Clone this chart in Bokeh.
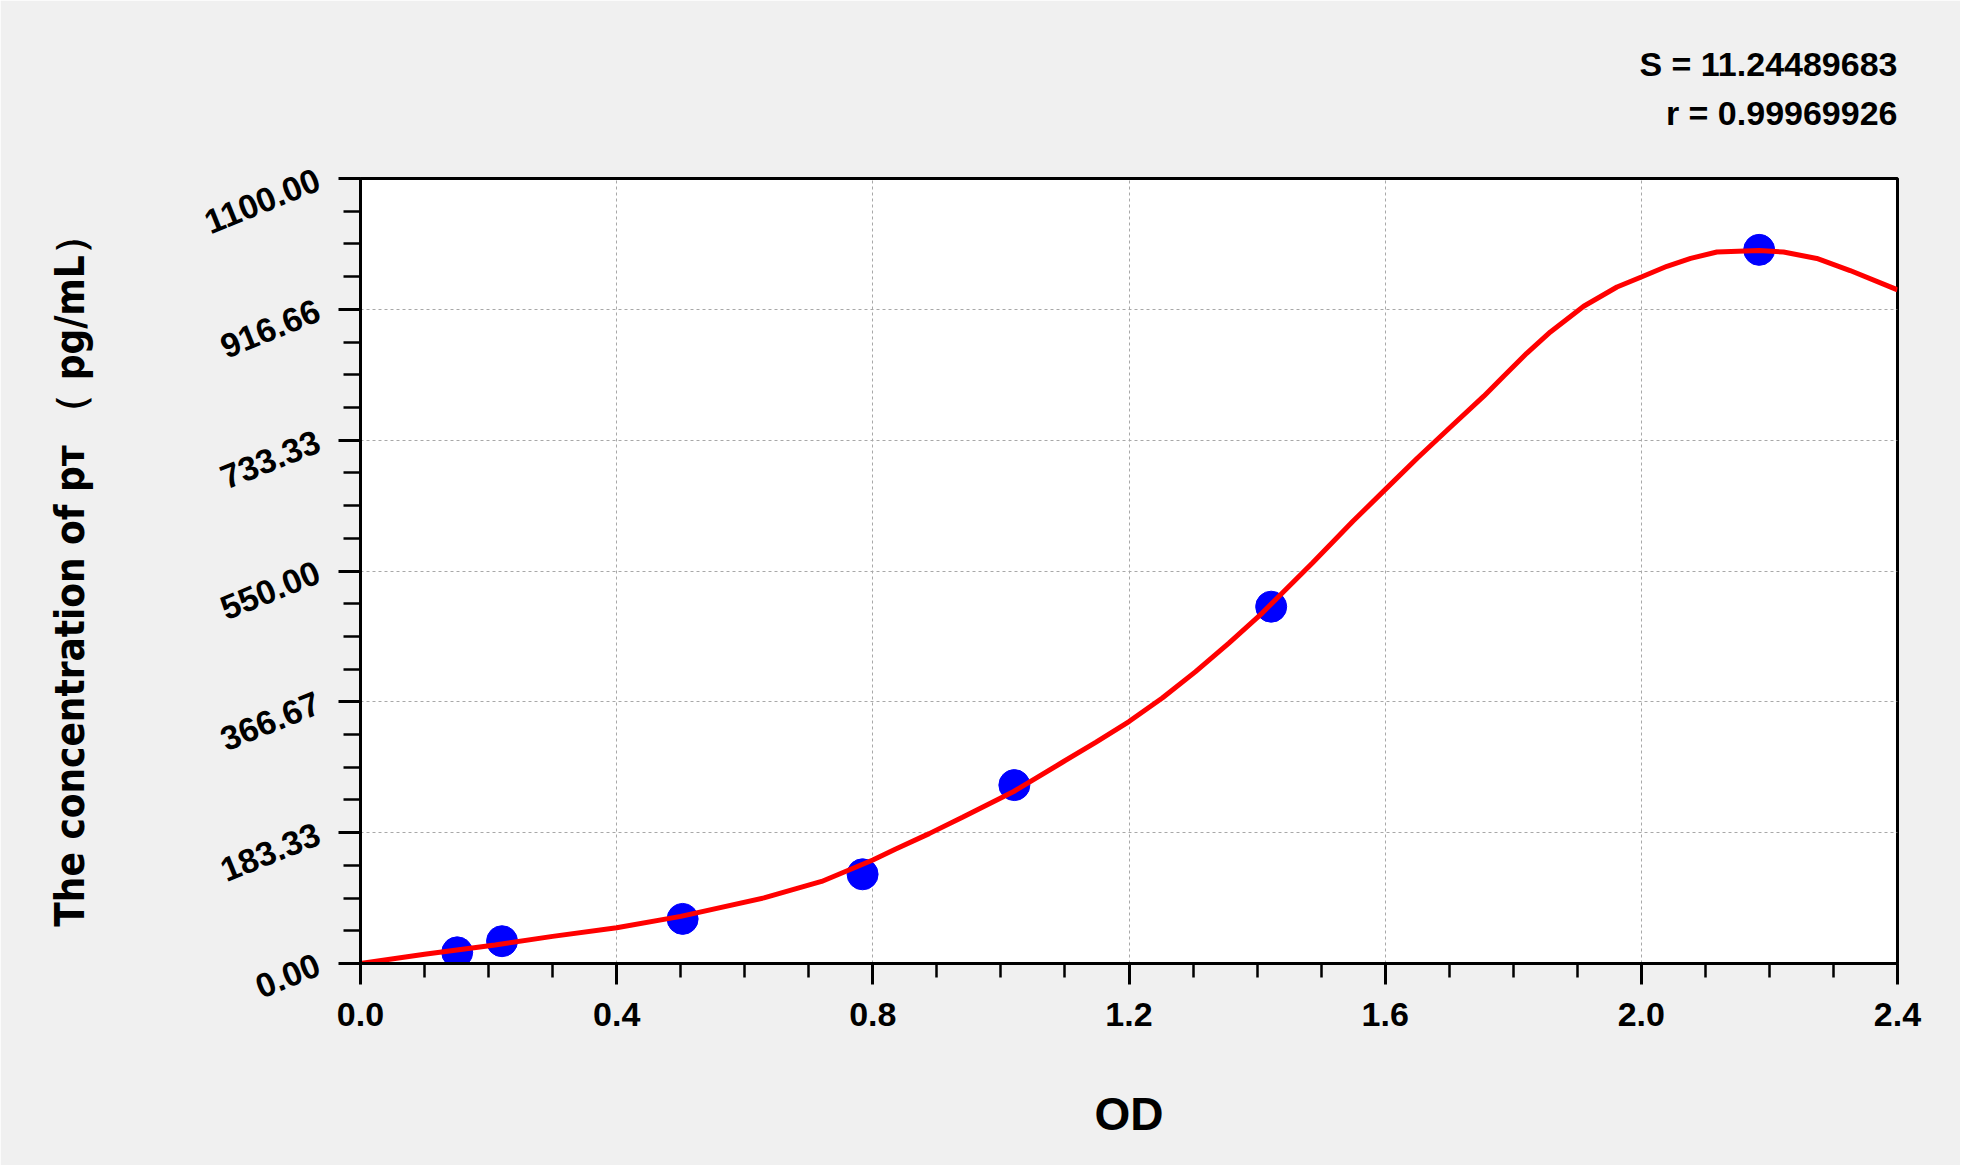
import math
import numpy as np
from bokeh.plotting import figure
from bokeh.models import FixedTicker, Range1d, Title
from bokeh.embed import file_html
from bokeh.resources import INLINE

# ---------------- data ----------------
std_od = [0.151, 0.221, 0.503, 0.784, 1.021, 1.422, 2.184]
std_conc = [15.625, 31.25, 62.5, 125.0, 250.0, 500.0, 1000.0]

fit_od = [0.00, 0.10, 0.21, 0.30, 0.40, 0.50, 0.63, 0.72, 0.80, 0.835,
          0.888, 0.94, 1.02, 1.096, 1.148, 1.20, 1.252, 1.304, 1.356, 1.408,
          1.486, 1.55, 1.60, 1.65, 1.70, 1.754, 1.785, 1.821, 1.858, 1.91,
          1.962, 2.00, 2.04, 2.077, 2.118, 2.184, 2.222, 2.274, 2.326, 2.40]
fit_conc = [0, 13, 26, 38, 50, 66, 92, 115, 145, 160,
            182, 205, 241, 282, 310, 339, 372, 409, 449, 491,
            561, 620, 664, 708, 750, 795, 823, 855, 885, 921,
            948, 962, 977, 988, 997, 999, 997, 988, 971, 944]

x_ticks = [0.0, 0.4, 0.8, 1.2, 1.6, 2.0, 2.4]
x_tick_labels = ["0.0", "0.4", "0.8", "1.2", "1.6", "2.0", "2.4"]
y_ticks = [0.0, 183.33, 366.67, 550.0, 733.33, 916.66, 1100.0]
y_tick_labels = ["0.00", "183.33", "366.67", "550.00", "733.33", "916.66", "1100.00"]

stat_lines = ["S = 11.24489683", "r = 0.99969926"]
x_title = "OD"
y_title = "The concentration of pт （ pg/mL）"

# ---------------- figure ----------------
BG = "#f0f0f0"
FONT = "'Liberation Sans', Arial, sans-serif"
NARROW = "'Liberation Sans Narrow', 'Arial Narrow', 'DejaVu Sans Condensed', sans-serif"

p = figure(width=1960, height=1165,
           x_range=Range1d(0, 2.4), y_range=Range1d(0, 1100),
           output_backend="svg", toolbar_location=None,
           min_border_left=360, min_border_right=63,
           min_border_top=178, min_border_bottom=202,
           background_fill_color="white", border_fill_color=BG,
           outline_line_color="black", outline_line_width=3)

# x axis
p.xaxis.ticker = FixedTicker(ticks=x_ticks,
                             minor_ticks=[round(v, 2) for v in np.arange(0, 2.401, 0.1)])
p.xaxis.major_label_overrides = {t: l for t, l in zip(x_ticks, x_tick_labels)}
p.xaxis.axis_label = x_title
p.xaxis.axis_label_text_font = FONT
p.xaxis.axis_label_text_font_style = "bold"
p.xaxis.axis_label_text_font_size = "46px"
p.xaxis.axis_label_standoff = 59
p.xaxis.major_tick_out = 21
p.xaxis.major_tick_in = 0
p.xaxis.minor_tick_out = 14
p.xaxis.minor_tick_in = 0
p.xaxis.major_label_standoff = 18

# y axis
p.yaxis.ticker = FixedTicker(ticks=y_ticks,
                             minor_ticks=list(np.linspace(0, 1100, 25)))
p.yaxis.major_label_overrides = {t: l for t, l in zip(y_ticks, y_tick_labels)}
p.yaxis.major_label_orientation = math.radians(22)
p.yaxis.axis_label = y_title
p.yaxis.axis_label_text_font = NARROW
p.yaxis.axis_label_text_font_style = "bold"
p.yaxis.axis_label_text_font_size = "40px"
p.yaxis.axis_label_standoff = 102
p.yaxis.major_tick_out = 22
p.yaxis.major_tick_in = 0
p.yaxis.minor_tick_out = 17
p.yaxis.minor_tick_in = 0
p.yaxis.major_label_standoff = 20

for ax in (p.xaxis, p.yaxis):
    ax.axis_line_color = "black"
    ax.axis_line_width = 3
    ax.major_tick_line_color = "black"
    ax.major_tick_line_width = 3
    ax.minor_tick_line_color = "black"
    ax.minor_tick_line_width = 2.5
    ax.major_label_text_font = FONT
    ax.major_label_text_font_style = "bold"
    ax.major_label_text_font_size = "34px"
    ax.major_label_text_color = "black"
    ax.axis_label_text_color = "black"

for g in (p.xgrid, p.ygrid):
    g.grid_line_color = "#a8a8a8"
    g.grid_line_dash = "3 3"
    g.grid_line_width = 1

# marks
p.scatter(std_od, std_conc, marker="circle", size=31,
          fill_color="#0000ff", line_color="#0000ff")
p.line(fit_od, fit_conc, line_color="#ff0000", line_width=5)

# statistics text (top-right, above frame): panels stack outward from frame
p.title = None
p.add_layout(Title(text=" ", align="right", standoff=44, text_font_size="1px",
                   background_fill_color=None), "above")   # spacing panel
for txt, so in zip(reversed(stat_lines), [0, 18]):
    p.add_layout(Title(text=txt, align="right", standoff=so, offset=0,
                       text_font=FONT, text_font_style="bold",
                       text_font_size="34px", text_color="black",
                       background_fill_color=None), "above")

html = file_html(p, INLINE)
html = html.replace("<body>", '<body style="margin:0;background:%s;">' % BG, 1)
open("out.html", "w").write(html)
